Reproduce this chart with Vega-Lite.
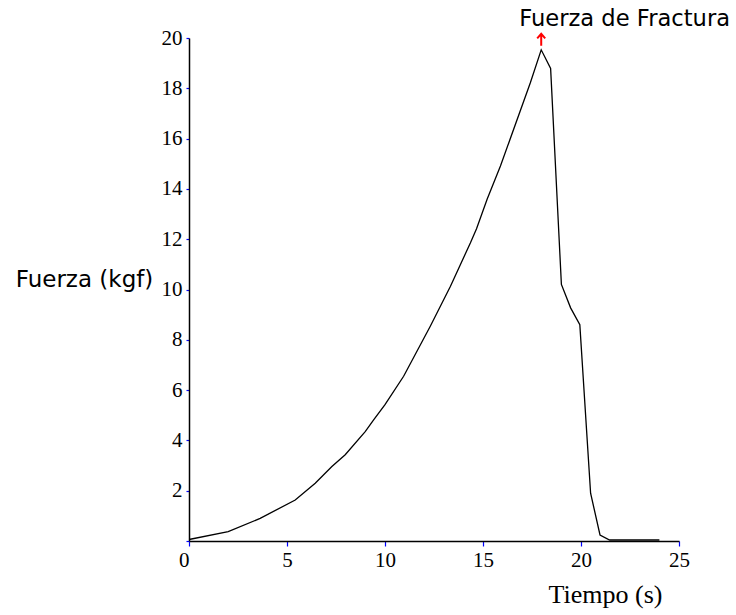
{
  "$schema": "https://vega.github.io/schema/vega-lite/v6.json",
  "width": 490,
  "height": 503,
  "autosize": {"type": "none"},
  "padding": {"left": 189, "top": 38, "right": 57, "bottom": 74},
  "background": "white",
  "config": {"view": {"stroke": null}},
  "datasets": {
    "curve": [
      {"t": 0, "F": 0.06},
      {"t": 2.0, "F": 0.37},
      {"t": 3.63, "F": 0.9},
      {"t": 5.42, "F": 1.63},
      {"t": 6.44, "F": 2.3},
      {"t": 7.29, "F": 2.96},
      {"t": 7.97, "F": 3.43},
      {"t": 8.99, "F": 4.35},
      {"t": 9.42, "F": 4.82},
      {"t": 10.0, "F": 5.42},
      {"t": 10.95, "F": 6.55},
      {"t": 12.31, "F": 8.54},
      {"t": 13.34, "F": 10.13},
      {"t": 14.36, "F": 11.86},
      {"t": 14.67, "F": 12.42},
      {"t": 15.21, "F": 13.59},
      {"t": 15.89, "F": 14.91},
      {"t": 17.42, "F": 18.23},
      {"t": 17.97, "F": 19.53},
      {"t": 18.45, "F": 18.79},
      {"t": 19.0, "F": 10.2},
      {"t": 19.47, "F": 9.27},
      {"t": 19.94, "F": 8.6},
      {"t": 20.49, "F": 1.9},
      {"t": 20.97, "F": 0.24},
      {"t": 21.46, "F": 0.04},
      {"t": 24.0, "F": 0.04}
    ],
    "peak": [
      {"t": 17.97, "F": 19.53, "label": "Fuerza de Fractura"}
    ]
  },
  "layer": [
    {
      "data": {"name": "curve"},
      "mark": {"type": "line", "color": "black", "strokeWidth": 1.3},
      "encoding": {
        "x": {
          "field": "t", "type": "quantitative",
          "scale": {"domain": [0, 25], "nice": false},
          "axis": {
            "values": [0, 5, 10, 15, 20, 25],
            "grid": false,
            "title": "Tiempo (s)",
            "titleFont": "Liberation Serif",
            "titleFontSize": 26,
            "titleFontWeight": "normal",
            "titleColor": "black",
            "titleX": 416,
            "titleY": 61,
            "titleAlign": "center",
            "titleBaseline": "alphabetic",
            "domainColor": "black",
            "domainWidth": 1.5,
            "tickColor": "#0000ff",
            "tickSize": 5,
            "tickWidth": 1.2,
            "labelFont": "Liberation Serif",
            "labelFontSize": 21,
            "labelColor": "black",
            "labelPadding": 3,
            "labelAlign": {"condition": {"test": "datum.value === 0", "value": "right"}, "value": "center"}
          }
        },
        "y": {
          "field": "F", "type": "quantitative",
          "scale": {"domain": [0, 20], "nice": false},
          "axis": {
            "values": [0, 2, 4, 6, 8, 10, 12, 14, 16, 18, 20],
            "labelExpr": "datum.value === 0 ? '' : datum.label",
            "grid": false,
            "title": "Fuerza (kgf)",
            "titleFont": "DejaVu Sans",
            "titleFontSize": 23,
            "titleFontWeight": "normal",
            "titleColor": "black",
            "titleAngle": 0,
            "titleX": -105,
            "titleY": 248,
            "titleAlign": "center",
            "titleBaseline": "alphabetic",
            "domainColor": "black",
            "domainWidth": 1.5,
            "tickColor": "#0000ff",
            "tickSize": 3,
            "tickWidth": 1.2,
            "labelFont": "Liberation Serif",
            "labelFontSize": 21,
            "labelColor": "black",
            "labelPadding": 4
          }
        }
      }
    },
    {
      "data": {"name": "peak"},
      "mark": {
        "type": "point",
        "shape": "M0,-4L0,-16M-4,-11.5L0,-16L4,-11.5",
        "size": 4,
        "filled": false,
        "stroke": "#ff0000",
        "strokeWidth": 2,
        "opacity": 1
      },
      "encoding": {
        "x": {"field": "t", "type": "quantitative"},
        "y": {"field": "F", "type": "quantitative"}
      }
    },
    {
      "data": {"name": "peak"},
      "mark": {
        "type": "text",
        "font": "DejaVu Sans",
        "fontSize": 22.6,
        "color": "black",
        "align": "left",
        "baseline": "alphabetic",
        "dx": -22,
        "dy": -24
      },
      "encoding": {
        "x": {"field": "t", "type": "quantitative"},
        "y": {"field": "F", "type": "quantitative"},
        "text": {"field": "label"}
      }
    }
  ]
}
